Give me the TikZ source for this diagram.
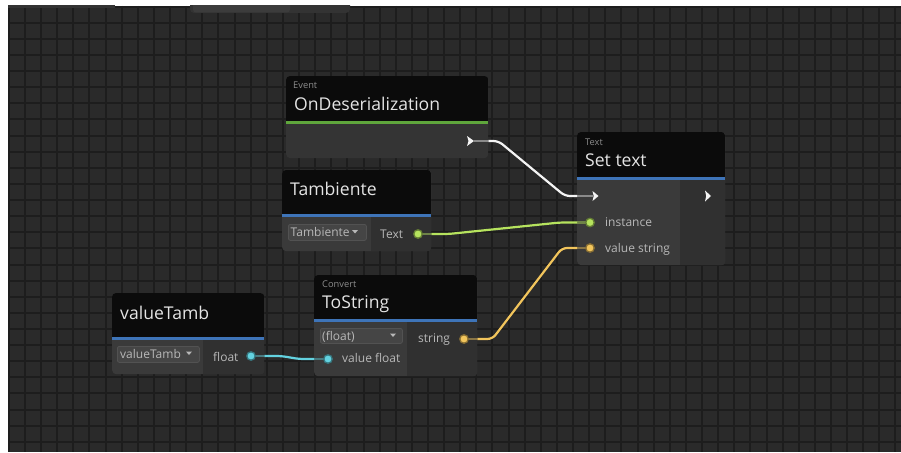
\documentclass[tikz,border=0pt]{standalone}
\usepackage{fontspec}
\setmainfont{Open Sans}
\usepackage{tikz}
\usetikzlibrary{calc,positioning}

\definecolor{canvas}{HTML}{2A2A2A}
\definecolor{gridline}{HTML}{1D1D1D}
\definecolor{tabfill}{HTML}{333333}
\definecolor{tablight}{HTML}{3C3C3C}
\definecolor{bodybg}{HTML}{343434}
\definecolor{bodylight}{HTML}{3A3A3A}
\definecolor{bodydark}{HTML}{303030}
\definecolor{headbg}{HTML}{0B0B0B}
\definecolor{eventgreen}{HTML}{5FA63C}
\definecolor{unitblue}{HTML}{3E74B8}
\definecolor{titletext}{HTML}{E4E4E4}
\definecolor{smalltext}{HTML}{8C8C8C}
\definecolor{porttext}{HTML}{B8B8B8}
\definecolor{ddfill}{HTML}{454545}
\definecolor{ddline}{HTML}{525252}
\definecolor{wgreen}{HTML}{B6E35E}
\definecolor{wyellow}{HTML}{F2C55C}
\definecolor{wcyan}{HTML}{63D2E0}
\definecolor{wwhite}{HTML}{F4F4F4}

\tikzset{
  unitbox/.style={anchor=north west, fill=#1, rounded corners=4, inner sep=0},
  unitbox/.default=bodybg,
  title/.style={anchor=base west, inner sep=0, text=titletext, font=\fontsize{17.6}{20}\selectfont},
  kind/.style={anchor=base west, inner sep=0, text=smalltext, font=\fontsize{9.3}{11}\selectfont},
  portlabel/.style={anchor=base west, inner sep=0, text=porttext, font=\fontsize{12}{14}\selectfont},
  dropdown/.style={anchor=north west, fill=ddfill, draw=ddline, line width=0.8, rounded corners=2, inner sep=0},
  ddarrow/.style={fill=porttext},
  valueport/.style={circle, fill=#1, draw=#1!55!black, line width=1.3, minimum size=8.5, inner sep=0},
  flowport/.style={fill=wwhite},
  wire/.style={draw=#1, line width=2.2, rounded corners=5},
  stub/.style={draw=#1!45!bodybg, line width=2.2},
}

\begin{document}
\begin{tikzpicture}[x=1pt, y=-1pt]
    \useasboundingbox[fill=white] (0,0) rectangle (901,452);

    % canvas with grid
    \begin{scope}
        \clip (8,6) rectangle (901,452);
        \fill[canvas] (8,6) rectangle (901,452);
        \foreach \k in {-1,...,54}
            \draw[gridline, line width=2] ({25+16.12*\k},6) -- ({25+16.12*\k},452);
        \foreach \k in {-1,...,26}
            \draw[gridline, line width=2] (8,{22.7+16.12*\k}) -- (901,{22.7+16.12*\k});
        \fill[tabfill, rounded corners=4] (190,-6) rectangle (350,13);
        \fill[tablight, rounded corners=3] (193,-6) rectangle (290,12.5);
        \fill[tabfill] (8,5) rectangle (115,8);
    \end{scope}

    % units
    \node[unitbox, minimum width=202, minimum height=82] (ev) at (286,76) {};
    \node[unitbox=bodylight, minimum width=148, minimum height=133] (st) at (577,132) {};
    \node[unitbox=bodylight, minimum width=149, minimum height=81] (ta) at (282,170) {};
    \node[unitbox=bodylight, minimum width=152, minimum height=81] (vt) at (112,293) {};
    \node[unitbox=bodylight, minimum width=163, minimum height=101] (ts) at (314,275) {};

    \begin{scope}
        \clip[rounded corners=4] (ev.north west) rectangle (ev.south east);
        \fill[headbg] (ev.north west) rectangle ($(ev.north east)+(0,45)$);
        \fill[eventgreen] ($(ev.north west)+(0,45)$) rectangle ($(ev.north east)+(0,48)$);
    \end{scope}
    \begin{scope}
        \clip[rounded corners=4] (st.north west) rectangle (st.south east);
        \fill[headbg] (st.north west) rectangle ($(st.north east)+(0,45)$);
        \fill[unitblue] ($(st.north west)+(0,45)$) rectangle ($(st.north east)+(0,47.5)$);
        \fill[bodydark] (680,179.5) rectangle (st.south east);
    \end{scope}
    \begin{scope}
        \clip[rounded corners=4] (ta.north west) rectangle (ta.south east);
        \fill[headbg] (ta.north west) rectangle ($(ta.north east)+(0,44)$);
        \fill[unitblue] ($(ta.north west)+(0,44)$) rectangle ($(ta.north east)+(0,46.5)$);
        \fill[bodydark] (371,216.5) rectangle (ta.south east);
    \end{scope}
    \begin{scope}
        \clip[rounded corners=4] (vt.north west) rectangle (vt.south east);
        \fill[headbg] (vt.north west) rectangle ($(vt.north east)+(0,44)$);
        \fill[unitblue] ($(vt.north west)+(0,44)$) rectangle ($(vt.north east)+(0,46.5)$);
        \fill[bodydark] (203,339.5) rectangle (vt.south east);
    \end{scope}
    \begin{scope}
        \clip[rounded corners=4] (ts.north west) rectangle (ts.south east);
        \fill[headbg] (ts.north west) rectangle ($(ts.north east)+(0,44)$);
        \fill[unitblue] ($(ts.north west)+(0,44)$) rectangle ($(ts.north east)+(0,46.5)$);
        \fill[bodydark] (407,321.5) rectangle (ts.south east);
    \end{scope}

    % headers
    \node[kind] (ev-kind) at (293,88.3) {Event};
    \node[title] (ev-title) at (294,110.7) {OnDeserialization};
    \node[kind] (st-kind) at (585,145) {Text};
    \node[title] (st-title) at (585,166.7) {Set text};
    \node[title] (ta-title) at (290,195.7) {Tambiente};
    \node[title] (vt-title) at (120,319.3) {valueTamb};
    \node[kind] (ts-kind) at (322,287.3) {Convert};
    \node[title] (ts-title) at (322,308.3) {ToString};

    % dropdowns
    \node[dropdown, minimum width=78, minimum height=16] (ta-dd) at (288,224) {};
    \node[portlabel] (ta-ddtext) at (290.5,236) {Tambiente};
    \fill[ddarrow] (352,230) -- (358,230) -- (355,233.5) -- cycle;
    \node[dropdown, minimum width=82, minimum height=16] (vt-dd) at (117,346) {};
    \node[portlabel] (vt-ddtext) at (120,358.3) {valueTamb};
    \fill[ddarrow] (186,351.5) -- (192,351.5) -- (189,355) -- cycle;
    \node[dropdown, minimum width=82, minimum height=15] (ts-dd) at (320,328) {};
    \node[portlabel] (ts-ddtext) at (322,340.5) {(float)};
    \fill[ddarrow] (390,333.5) -- (396,333.5) -- (393,337) -- cycle;

    % port labels
    \node[portlabel] (ta-outlabel) at (380,238.3) {Text};
    \node[portlabel] (vt-outlabel) at (213,361) {float};
    \node[portlabel] (ts-outlabel) at (418,342.7) {string};
    \node[portlabel] (ts-inlabel) at (342,362.7) {value float};
    \node[portlabel] (st-instlabel) at (605,226.7) {instance};
    \node[portlabel] (st-vallabel) at (605,252) {value string};

    % flow ports
    \coordinate (ev-out) at (474,141);
    \coordinate (st-in) at (592.5,196);
    \coordinate (st-out) at (705,196);
    \draw[stub=wwhite] (ev-out) -- (ev.east |- ev-out);
    \draw[stub=wwhite] (st.west |- st-in) -- (st-in);
    \fill[flowport] (ev-out) -- ++(-7,-5) -- ++(1.5,5) -- ++(-1.5,5) -- cycle;
    \fill[flowport] (st-in) ++(0,-5) -- ++(6,5) -- ++(-6,5) -- ++(1.2,-5) -- cycle;
    \fill[flowport] (st-out) ++(0,-5.5) -- ++(6,5.5) -- ++(-6,5.5) -- ++(1.2,-5.5) -- cycle;

    % value ports
    \draw[stub=wgreen] (418,234) -- (ta.east |- 418,234);
    \draw[stub=wcyan] (251,356) -- (vt.east |- 251,356);
    \draw[stub=wyellow] (464,339) -- (ts.east |- 464,339);
    \draw[stub=wcyan] (ts.west |- 328,359) -- (328,359);
    \draw[stub=wgreen] (st.west |- 590,222.5) -- (590,222.5);
    \draw[stub=wyellow] (st.west |- 590,248) -- (590,248);
    \node[valueport=wgreen] (ta-out) at (418,234) {};
    \node[valueport=wcyan] (vt-out) at (251,356) {};
    \node[valueport=wyellow] (ts-out) at (464,339) {};
    \node[valueport=wcyan] (ts-in) at (328,359) {};
    \node[valueport=wgreen] (st-inst) at (590,222.5) {};
    \node[valueport=wyellow] (st-val) at (590,248) {};

    % connections
    \draw[wire=wwhite] (ev.east |- ev-out) -- ++(10,0)
        -- ($(st.west |- st-in)+(-12,0)$) -- (st.west |- st-in);
    \draw[wire=wgreen] (ta.east |- ta-out) -- ++(17,0)
        -- ($(st.west |- st-inst)+(-17,0)$) -- (st.west |- st-inst);
    \draw[wire=wyellow] (ts.east |- ts-out) -- ++(15,0)
        -- ($(st.west |- st-val)+(-15,0)$) -- (st.west |- st-val);
    \draw[wire=wcyan] (vt.east |- vt-out) -- ++(17,0)
        -- ($(ts.west |- ts-in)+(-15,0)$) -- (ts.west |- ts-in);
\end{tikzpicture}
\end{document}
